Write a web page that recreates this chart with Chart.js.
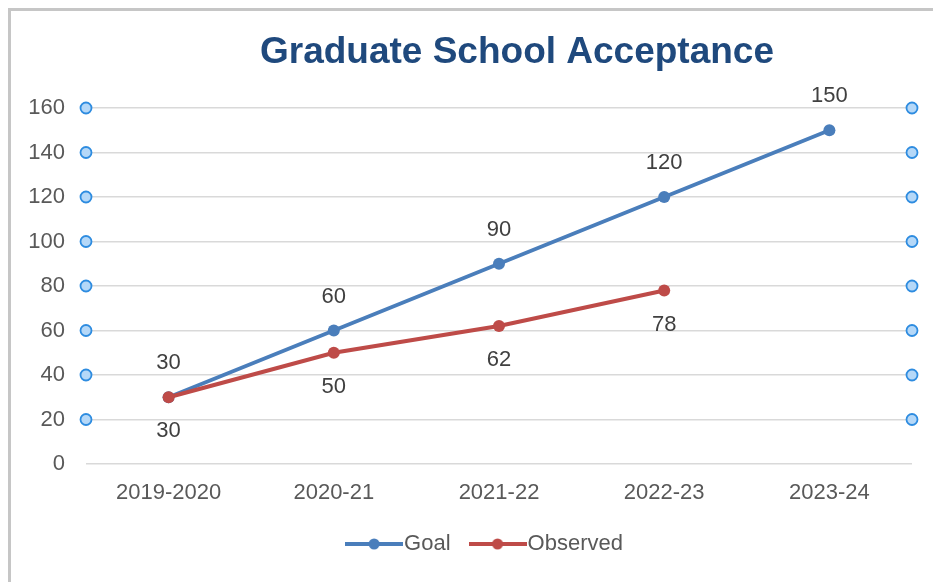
<!DOCTYPE html>
<html><head><meta charset="utf-8">
<script src="https://cdn.jsdelivr.net/npm/chart.js@4.4.0/dist/chart.umd.min.js"></script>
<style>
html,body{margin:0;padding:0;background:#fff;overflow:hidden}
#wrap{position:relative;width:933px;height:582px;overflow:hidden}
#frame{position:absolute;left:8px;top:8px;width:960px;height:620px;border-left:3px solid #c6c6c6;border-top:3px solid #c6c6c6;box-sizing:border-box}
canvas{position:absolute;left:0;top:0}
</style></head>
<body><div id="wrap"><div id="frame"></div><canvas id="c" width="933" height="582"></canvas></div>
<script>
const titleText = 'Graduate School Acceptance';
const categories = ['2019-2020', '2020-21', '2021-22', '2022-23', '2023-24'];
const goalValues = [30, 60, 90, 120, 150];
const observedValues = [30, 50, 62, 78, null];
const seriesNames = ['Goal', 'Observed'];
const yMin = 0, yMax = 160, yStep = 20;

const FONT = '"Liberation Sans", Arial, Helvetica, sans-serif';
const BLUE = '#4a7ebb', RED = '#be4b48';

function legendIcon(color) {
  const c = document.createElement('canvas');
  c.width = 58; c.height = 14;
  const g = c.getContext('2d');
  g.strokeStyle = color; g.lineWidth = 4;
  g.beginPath(); g.moveTo(0, 7); g.lineTo(58, 7); g.stroke();
  g.fillStyle = color;
  g.beginPath(); g.arc(29, 7, 5.5, 0, Math.PI * 2); g.fill();
  return c;
}
const icons = [legendIcon(BLUE), legendIcon(RED)];

const valueLabels = {
  id: 'valueLabels',
  afterDatasetsDraw(chart) {
    const ctx = chart.ctx;
    ctx.save();
    ctx.font = '22px ' + FONT;
    ctx.fillStyle = '#404040';
    ctx.textAlign = 'center';
    ctx.textBaseline = 'middle';
    chart.data.datasets.forEach((ds, i) => {
      const meta = chart.getDatasetMeta(i);
      const dir = ds.labelSide === 'below' ? 1 : -1;
      meta.data.forEach((pt, j) => {
        const v = ds.data[j];
        if (v == null) return;
        ctx.fillText(String(v), pt.x, pt.y + dir * 34);
      });
    });
    ctx.restore();
  }
};

const handles = {
  id: 'handles',
  afterDraw(chart) {
    const ctx = chart.ctx, ys = chart.scales.y, ca = chart.chartArea;
    ctx.save();
    ys.ticks.forEach(t => {
      if (t.value <= yMin) return;
      const y = ys.getPixelForValue(t.value);
      [ca.left, ca.right].forEach(x => {
        ctx.beginPath();
        ctx.arc(x, y, 5.5, 0, Math.PI * 2);
        ctx.fillStyle = '#b5d8f8';
        ctx.fill();
        ctx.lineWidth = 1.8;
        ctx.strokeStyle = '#2e8ce0';
        ctx.stroke();
      });
    });
    ctx.restore();
  }
};

const titleDraw = {
  id: 'titleDraw',
  afterDraw(chart) {
    const ctx = chart.ctx, ca = chart.chartArea;
    ctx.save();
    ctx.font = 'bold 37px ' + FONT;
    ctx.fillStyle = '#1f497d';
    ctx.textAlign = 'center';
    ctx.textBaseline = 'alphabetic';
    ctx.fillText(titleText, (ca.left + ca.right) / 2 + 18, 63);
    ctx.restore();
  }
};

const legendShift = {
  id: 'legendShift',
  afterLayout(chart) {
    if (chart.legend) { chart.legend.left += 33; chart.legend.right += 33; }
  }
};

new Chart(document.getElementById('c'), {
  type: 'line',
  data: {
    labels: categories,
    datasets: [
      { label: seriesNames[0], data: goalValues, borderColor: BLUE, backgroundColor: BLUE,
        pointBackgroundColor: BLUE, pointBorderWidth: 0, pointRadius: 6, borderWidth: 4,
        labelSide: 'above', order: 1 },
      { label: seriesNames[1], data: observedValues, borderColor: RED, backgroundColor: RED,
        pointBackgroundColor: RED, pointBorderWidth: 0, pointRadius: 6, borderWidth: 4,
        labelSide: 'below', order: 0 }
    ]
  },
  options: {
    responsive: false,
    animation: false,
    layout: { padding: { top: 108, left: 0, right: 21, bottom: 17 } },
    plugins: {
      title: { display: false },
      tooltip: { enabled: false },
      legend: {
        position: 'bottom',
        labels: {
          usePointStyle: true,
          pointStyleWidth: 38,
          padding: 28,
          color: '#595959',
          font: { family: FONT, size: 22 },
          generateLabels(chart) {
            return chart.data.datasets.map((ds, i) => ({
              text: ds.label, fillStyle: ds.borderColor, strokeStyle: ds.borderColor,
              lineWidth: 0, pointStyle: icons[i], hidden: false, datasetIndex: i, fontColor: '#595959'
            }));
          }
        }
      }
    },
    scales: {
      x: {
        offset: true,
        grid: { display: false, drawTicks: false },
        border: { display: false },
        ticks: { color: '#595959', font: { family: FONT, size: 22 }, padding: 16, maxRotation: 0 },
        afterFit(s) { s.height = 41; }
      },
      y: {
        min: yMin, max: yMax,
        grid: { color: '#d9d9d9', lineWidth: 1.5, drawTicks: false },
        border: { display: false },
        ticks: { stepSize: yStep, color: '#595959', font: { family: FONT, size: 22 }, padding: 21 },
        afterFit(s) { s.width = 86; }
      }
    }
  },
  plugins: [valueLabels, handles, titleDraw, legendShift]
});
</script>
</body></html>
